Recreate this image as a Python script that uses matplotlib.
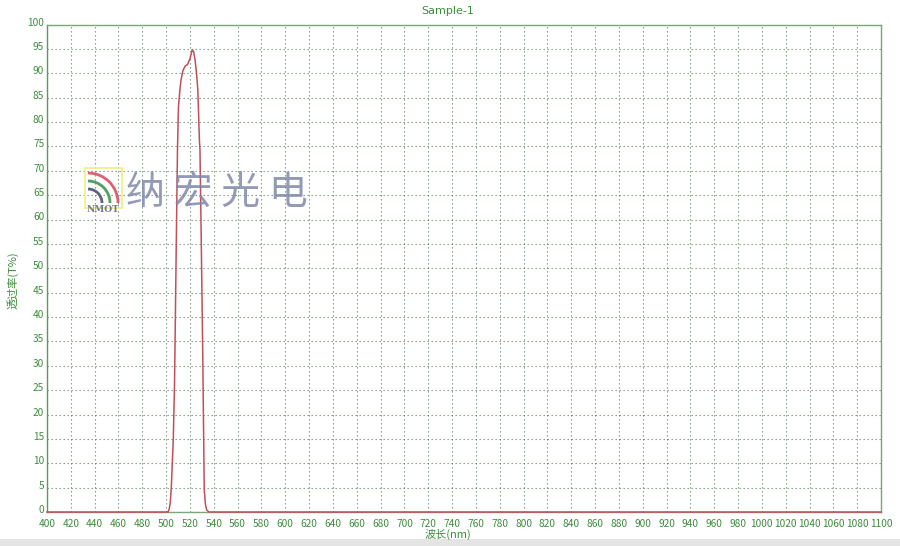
import matplotlib.pyplot as plt
from matplotlib.patches import Rectangle, Arc
from matplotlib.transforms import ScaledTranslation

plt.rcParams['font.family'] = ['Noto Sans CJK SC', 'DejaVu Sans']

# transmission curve (nm, %T)
wavelength = [400, 500, 501.5, 502.5, 503.5, 504.3, 505, 506, 507, 507.4, 508.5,
              509.5, 510.3, 511.5, 512.5, 514, 516, 518, 520, 521.9, 523, 524.3,
              525.5, 526.6, 527.9, 528.4, 529.5, 530.7, 531.5, 532, 533, 534, 536,
              540, 1100]
transmission = [0, 0, 0, 0.5, 2, 5, 9, 15, 26, 33, 55,
                74, 83, 86.5, 88.6, 90.5, 91.5, 91.8, 93, 94.8, 94.5, 92.7,
                90, 86.6, 76.3, 74.3, 55, 33, 14.8, 4.5, 1.5, 0.4, 0,
                0, 0]

x_ticks = list(range(400, 1101, 20))
y_ticks = list(range(0, 101, 5))

green = '#3c8c3c'
fig = plt.figure(figsize=(9, 5.46), dpi=100)
ax = fig.add_axes([47/900, 1-512/546, (881-47)/900, (512-24.5)/546])

ax.plot(wavelength, transmission, color='#c0505c', lw=1.1, zorder=3, clip_on=False)

ax.set_xlim(400, 1100)
ax.set_ylim(0, 100)
ax.set_xticks(x_ticks)
ax.set_yticks(y_ticks)
ax.tick_params(length=0, labelsize=7.3, labelcolor=green)
ax.tick_params(axis='x', pad=5)
ax.tick_params(axis='y', pad=2)
# y labels sit a little above their grid lines
offset = ScaledTranslation(0, 3/100, fig.dpi_scale_trans)
for lbl in ax.get_yticklabels():
    lbl.set_transform(lbl.get_transform() + offset)
ax.grid(True, linestyle=(0, (1.2, 2.4)), color='#4a704a', lw=0.8, alpha=0.75)
for s in ax.spines.values():
    s.set_color('#7aa87a')
    s.set_linewidth(1.0)
ax.spines['left'].set_color('#5a9a5a')

fig.text(448/900, 1-11/546, 'Sample-1', color=green, fontsize=8,
         ha='center', va='center', family=['DejaVu Sans'])
fig.text(448/900, 1-534/546, '波长(nm)', color=green, fontsize=8,
         ha='center', va='center')
fig.text(13/900, 1-280/546, '透过率(T%)', color=green, fontsize=8,
         ha='center', va='center', rotation=90)

# watermark
fig.text(126/900, 1-193/546, '纳 宏 光 电', color='#8088aa', fontsize=28,
         ha='left', va='center', alpha=0.85)
fig.patches.append(Rectangle((85/900, 1-208/546), 37/900, 40/546,
                             transform=fig.transFigure, fill=False,
                             ec='#f0f080', lw=1.2))
for r, c in [(30, '#e06070'), (22, '#50a060'), (14, '#606080')]:
    fig.patches.append(Arc((88/900, 1-203/546), 2*r/900, 2*r/546,
                           theta1=0, theta2=90, transform=fig.transFigure,
                           color=c, lw=2))
fig.text(103/900, 1-210/546, 'NMOT', color='#707890', fontsize=6.5,
         fontweight='bold', ha='center', va='center', family=['DejaVu Serif'])

# light frame at the bottom edge
fig.patches.append(Rectangle((0, 0), 1, 7/546, transform=fig.transFigure,
                             color='#e4e4e4', lw=0))

fig.savefig('out.png', dpi=100)
